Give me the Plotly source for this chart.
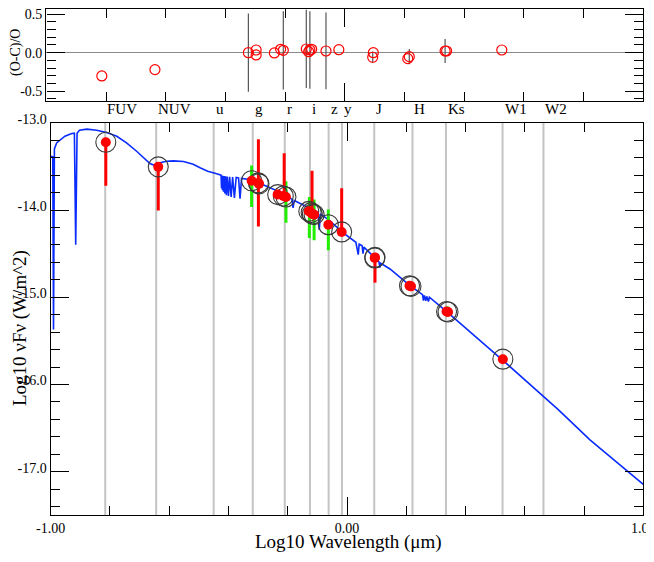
import plotly.graph_objects as go

# ---------------- data ----------------
filter_names = ["FUV", "NUV", "u", "g", "r", "i", "z", "y", "J", "H", "Ks", "W1", "W2"]
filter_logwl = [-0.816, -0.644, -0.450, -0.318, -0.210, -0.125, -0.062, -0.017,
                0.092, 0.221, 0.334, 0.525, 0.663]

model_x = [-0.999, -0.993, -0.9905, -0.9875, -0.980, -0.969, -0.952, -0.929, -0.920,
           -0.9156, -0.911, -0.903, -0.878, -0.845, -0.811, -0.777, -0.744, -0.710,
           -0.687, -0.665, -0.648, -0.631, -0.609, -0.586, -0.552, -0.519, -0.496,
           -0.470, -0.440, -0.429,
           -0.425, -0.4235, -0.422, -0.4205, -0.419, -0.417, -0.415, -0.4125, -0.410,
           -0.407, -0.404, -0.400, -0.396, -0.391, -0.386, -0.380, -0.374, -0.366,
           -0.361, -0.356, -0.350, -0.327, -0.271, -0.215, -0.186, -0.182, -0.178,
           -0.125, -0.097, -0.0935, -0.090, -0.063, -0.0125, 0.030, 0.038, 0.041,
           0.051, 0.054, 0.057, 0.0945, 0.108, 0.111, 0.114, 0.145, 0.2126, 0.255,
           0.258, 0.261, 0.266, 0.269, 0.275, 0.278, 0.3365, 0.524, 0.713, 0.820, 1.0]
model_y = [-13.383, -13.390, -15.37, -13.30, -13.230, -13.200, -13.154, -13.123, -13.119,
           -14.397, -13.119, -13.085, -13.073, -13.085, -13.111, -13.154, -13.230, -13.326,
           -13.402, -13.467, -13.490, -13.459, -13.441, -13.436, -13.444, -13.475, -13.515,
           -13.555, -13.585, -13.594,
           -13.600, -13.75, -13.605, -13.77, -13.607, -13.79, -13.610, -13.81, -13.612,
           -13.83, -13.615, -13.84, -13.618, -13.85, -13.622, -13.86, -13.626, -13.632,
           -13.87, -13.638, -13.640, -13.651, -13.728, -13.812, -13.875, -13.976, -13.890,
           -13.987, -14.030, -14.225, -14.045, -14.110, -14.263, -14.370, -14.512, -14.390,
           -14.410, -14.500, -14.425, -14.550, -14.595, -14.660, -14.610, -14.676, -14.868, -14.970,
           -15.040, -14.980, -15.040, -14.990, -15.050, -15.000, -15.165, -15.717, -16.288, -16.636, -17.145]

obs_x = [-0.814, -0.637, -0.322, -0.299, -0.297, -0.234, -0.215, -0.206, -0.129, -0.121,
         -0.117, -0.111, -0.063, -0.018, 0.0945, 0.0935, 0.211, 0.216, 0.336, 0.341, 0.526]
obs_y = [-13.223, -13.505, -13.664, -13.689, -13.700, -13.823, -13.840, -13.850, -14.015, -14.030,
         -14.045, -14.053, -14.168, -14.251, -14.543, -14.550, -14.868, -14.875, -15.163, -15.170, -15.710]

red_err_x = [-0.814, -0.637, -0.299, -0.212, -0.118, -0.018, 0.0945]
red_err_y = [-13.223, -13.505, -13.689, -13.840, -14.040, -14.251, -14.543]
red_err_plus = [0.0, 0.0, 0.50, 0.49, 0.49, 0.50, 0.0]
red_err_minus = [0.50, 0.50, 0.50, 0.0, 0.0, 0.0, 0.29]

green_err_x = [-0.322, -0.206, -0.127, -0.111, -0.063, 0.338]
green_err_y = [-13.727, -13.908, -14.085, -14.113, -14.228, -15.163]
green_err = [0.237, 0.239, 0.235, 0.233, 0.233, 0.06]

res_x = [-0.814, -0.636, -0.323, -0.297, -0.297, -0.236, -0.215, -0.206, -0.129, -0.121,
         -0.117, -0.111, -0.063, -0.020, 0.0955, 0.0935, 0.211, 0.216, 0.336, 0.341, 0.526]
res_y = [-0.303, -0.221, 0.0, 0.035, -0.030, -0.004, 0.044, 0.031, 0.048, 0.013,
         0.035, 0.044, 0.022, 0.039, 0.0, -0.060, -0.078, -0.052, 0.022, 0.022, 0.035]
res_err = [0, 0, 0.51, 0, 0, 0, 0, 0.51, 0.51, 0,
           0.505, 0, 0.50, 0, 0, 0.076, 0, 0.10, 0.156, 0, 0]

# ---------------- figure ----------------
# the page body has an 8px margin, so the figure is 16px smaller and shifted
OFF = 8
W, H = 654 - 2 * OFF, 562 - 2 * OFF
FONT = "Liberation Serif"


def fx(px):
    return min(1.0, max(0.0, (px - OFF) / W))


def fy(py):
    return min(1.0, max(0.0, 1 - (py - OFF) / H))


fig = go.Figure()

# residual panel
fig.add_trace(go.Scatter(
    x=res_x, y=res_y, mode="markers", xaxis="x", yaxis="y",
    marker=dict(symbol="circle-open", size=10, color="red", line=dict(width=1.2)),
    error_y=dict(type="data", array=res_err, symmetric=True, color="#555555",
                 thickness=1.2, width=0),
    hoverinfo="skip"))

# model curve
fig.add_trace(go.Scatter(
    x=model_x, y=model_y, mode="lines", xaxis="x2", yaxis="y2",
    line=dict(color="#0a2cff", width=1.6), hoverinfo="skip"))

# green error bars
fig.add_trace(go.Scatter(
    x=green_err_x, y=green_err_y, mode="markers", xaxis="x2", yaxis="y2",
    marker=dict(size=1, color="rgba(0,0,0,0)"),
    error_y=dict(type="data", array=green_err, symmetric=True, color="#22ee00",
                 thickness=3, width=0),
    hoverinfo="skip"))

# red error bars
fig.add_trace(go.Scatter(
    x=red_err_x, y=red_err_y, mode="markers", xaxis="x2", yaxis="y2",
    marker=dict(size=1, color="rgba(0,0,0,0)"),
    error_y=dict(type="data", array=red_err_plus, arrayminus=red_err_minus,
                 symmetric=False, color="#ff0000", thickness=3, width=0),
    hoverinfo="skip"))

# open circles
fig.add_trace(go.Scatter(
    x=obs_x, y=obs_y, mode="markers", xaxis="x2", yaxis="y2",
    marker=dict(symbol="circle-open", size=20, color="#3a3a3a", line=dict(width=1.1)),
    hoverinfo="skip"))

# red dots
fig.add_trace(go.Scatter(
    x=obs_x, y=obs_y, mode="markers", xaxis="x2", yaxis="y2",
    marker=dict(symbol="circle", size=10, color="#ff0000", line=dict(width=0)),
    hoverinfo="skip"))

# filter lines
shapes = []
for wl in filter_logwl:
    shapes.append(dict(type="line", xref="x2", yref="y2 domain", x0=wl, x1=wl, y0=0, y1=1,
                       line=dict(color="#c4c4c4", width=2), layer="below"))

annotations = []
for name, wl in zip(filter_names, filter_logwl):
    annotations.append(dict(text=name, x=wl, xref="x2", y=fy(109), yref="paper",
                            xanchor="left", yanchor="middle", showarrow=False,
                            font=dict(family=FONT, size=15, color="black")))

annotations.append(dict(text="Log10 Wavelength (μm)", x=fx(348), y=0.0,
                        xref="paper", yref="paper", xanchor="center", yanchor="bottom",
                        borderpad=0, showarrow=False,
                        font=dict(family=FONT, size=19, color="black")))
annotations.append(dict(text="Log10 νFν (W/m^2)", x=fx(8), y=fy(328),
                        xref="paper", yref="paper", xanchor="left", yanchor="middle",
                        borderpad=0, textangle=-90, showarrow=False,
                        font=dict(family=FONT, size=19, color="black")))
annotations.append(dict(text="(O-C)/O", x=fx(16), y=fy(53),
                        xref="paper", yref="paper", xanchor="center", yanchor="middle",
                        textangle=-90, showarrow=False,
                        font=dict(family=FONT, size=14, color="black")))

axis_common = dict(showline=True, linecolor="black", linewidth=1.4, mirror="ticks",
                   ticks="inside", ticklen=18, tickwidth=1.3, tickcolor="black",
                   showgrid=False, automargin=False,
                   tickfont=dict(family=FONT, size=14, color="black"))
minor_common = dict(ticks="inside", ticklen=9, tickwidth=1.2, tickcolor="black",
                    tick0=0, showgrid=False)

fig.update_layout(
    width=W, height=H, margin=dict(l=0, r=0, t=0, b=0),
    paper_bgcolor="white", plot_bgcolor="white", showlegend=False,
    font=dict(family=FONT, size=14, color="black"),
    shapes=shapes, annotations=annotations,
    xaxis=dict(domain=[fx(46.3), fx(643.3)], range=[-1, 1], anchor="y",
               tickvals=[-1, 0, 1], showticklabels=False, zeroline=False,
               minor=dict(dtick=0.2, **minor_common),
               **axis_common),
    yaxis=dict(domain=[fy(100.7), fy(8.7)], range=[-0.626, 0.573], anchor="x",
               tickvals=[-0.5, 0.0, 0.5], ticktext=["-0.5", "0.0", "0.5"],
               ticklabelshift=0, ticklabeloverflow="allow",
               zeroline=True, zerolinecolor="#8a8a8a", zerolinewidth=1,
               minor=dict(dtick=0.1, **minor_common),
               **axis_common),
    xaxis2=dict(domain=[fx(50.7), fx(643.3)], range=[-1, 1], anchor="y2",
                tickvals=[-1, 0, 1], ticktext=["-1.00", "0.00", "1.00"], zeroline=False,
                ticklabeloverflow="allow",
                minor=dict(dtick=0.2, **minor_common),
                **axis_common),
    yaxis2=dict(domain=[fy(515.3), fy(122.8)], range=[-17.5, -13.0], anchor="x2",
                tickvals=[-17, -16, -15, -14, -13],
                ticktext=["-17.0", "-16.0", "-15.0", "-14.0", "-13.0"],
                ticklabelshift=-4, zeroline=False,
                minor=dict(dtick=0.2, **minor_common),
                **axis_common),
)

fig.write_html("out.html")
